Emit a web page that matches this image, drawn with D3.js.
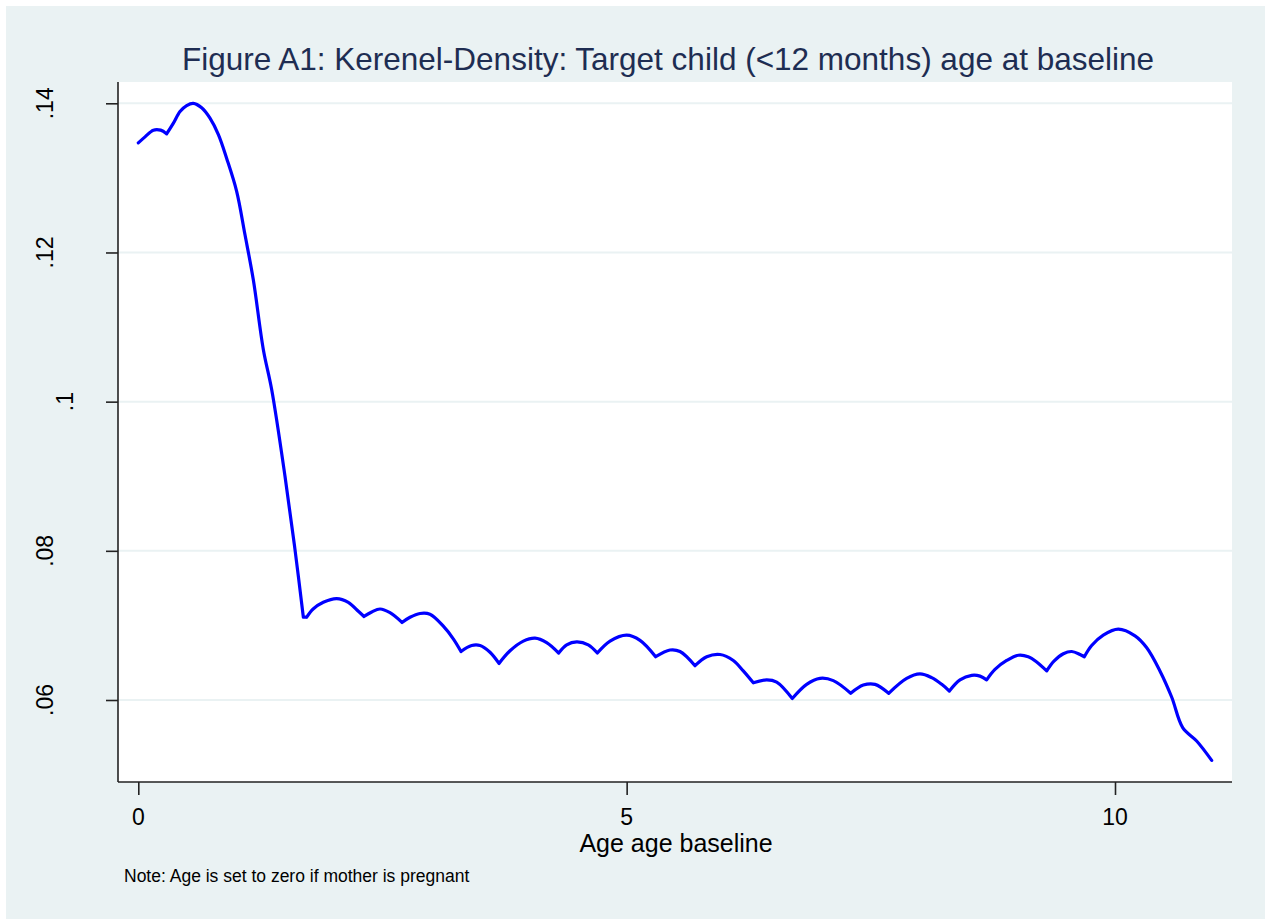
<!DOCTYPE html>
<html lang="en">

<head>
    <script src='https://d3js.org/d3.v7.min.js'></script>
    <style>
        body { margin: 0; background: #fff; }
        text { font-family: "Liberation Sans", Arial, sans-serif; }
    </style>
</head>

<body>

    <script>
        // kernel density of child age
        const ages = [0.000, 0.069, 0.154, 0.229, 0.290, 0.358, 0.427, 0.495, 0.563, 0.649,
            0.734, 0.820, 0.905, 1.007, 1.092, 1.178, 1.280, 1.366, 1.502, 1.604,
            1.690, 1.724, 1.790, 1.894, 2.031, 2.150, 2.253, 2.311, 2.390, 2.475,
            2.577, 2.700, 2.782, 2.884, 2.986, 3.123, 3.225, 3.304, 3.413, 3.499,
            3.601, 3.693, 3.806, 3.942, 4.062, 4.181, 4.304, 4.386, 4.489, 4.607,
            4.700, 4.830, 5.000, 5.137, 5.297, 5.444, 5.546, 5.700, 5.820, 5.956,
            6.092, 6.194, 6.297, 6.434, 6.536, 6.696, 6.843, 6.980, 7.116, 7.294,
            7.423, 7.543, 7.683, 7.867, 8.003, 8.123, 8.226, 8.304, 8.413, 8.533,
            8.618, 8.686, 8.771, 8.891, 9.010, 9.112, 9.198, 9.301, 9.375, 9.471,
            9.557, 9.642, 9.686, 9.761, 9.880, 10.034, 10.205, 10.325, 10.460, 10.580,
            10.693, 10.836, 10.990];

        const density = [0.1347, 0.1355, 0.1364, 0.1364, 0.1359, 0.1373, 0.1389, 0.1397, 0.1400, 0.1394,
            0.1380, 0.1358, 0.1326, 0.1282, 0.1224, 0.1163, 0.1070, 0.1016, 0.0900, 0.0802,
            0.0711, 0.0711, 0.0722, 0.0731, 0.0736, 0.0731, 0.0719, 0.0712, 0.0718, 0.0722,
            0.0717, 0.0704, 0.0711, 0.0716, 0.0715, 0.0699, 0.0682, 0.0665, 0.0673, 0.0673,
            0.0664, 0.0649, 0.0666, 0.0679, 0.0683, 0.0677, 0.0663, 0.0674, 0.0678, 0.0674,
            0.0663, 0.0679, 0.0687, 0.0680, 0.0658, 0.0667, 0.0665, 0.0646, 0.0658, 0.0661,
            0.0653, 0.0639, 0.0623, 0.0627, 0.0624, 0.0602, 0.0621, 0.0629, 0.0626, 0.0609,
            0.0620, 0.0621, 0.0609, 0.0629, 0.0635, 0.0630, 0.0621, 0.0612, 0.0627, 0.0633,
            0.0632, 0.0627, 0.0641, 0.0653, 0.0660, 0.0658, 0.0651, 0.0639, 0.0652, 0.0662,
            0.0665, 0.0661, 0.0658, 0.0673, 0.0687, 0.0695, 0.0686, 0.0670, 0.0639, 0.0604,
            0.0563, 0.0545, 0.0519];

        const xTicks = [0, 5, 10];
        const xTickLabels = ["0", "5", "10"];
        const yTicks = [0.06, 0.08, 0.10, 0.12, 0.14];
        const yTickLabels = [".06", ".08", ".1", ".12", ".14"];

        const titleText = "Figure A1: Kerenel-Density: Target child (<12 months) age at baseline";
        const xTitle = "Age age baseline";
        const noteText = "Note: Age is set to zero if mother is pregnant";

        const W = 1265, H = 919;
        const plot = { left: 118, right: 1232, top: 82, bottom: 782 };

        const svg = d3.select("body").append("svg")
            .attr("width", W)
            .attr("height", H);

        // graph region
        svg.append("rect")
            .attr("x", 6).attr("y", 6)
            .attr("width", W - 6).attr("height", H - 6)
            .attr("fill", "#eaf2f3");

        // plot region
        svg.append("rect")
            .attr("x", plot.left).attr("y", plot.top)
            .attr("width", plot.right - plot.left)
            .attr("height", plot.bottom - plot.top)
            .attr("fill", "#ffffff");

        const x = d3.scaleLinear().domain([0, 10]).range([138.3, 1115]);
        const y = d3.scaleLinear().domain([0.06, 0.14]).range([700, 103.3]);

        // gridlines
        svg.append("g")
            .selectAll("line")
            .data(yTicks)
            .enter()
            .append("line")
            .attr("x1", plot.left).attr("x2", plot.right)
            .attr("y1", d => y(d)).attr("y2", d => y(d))
            .attr("stroke", "#eaf2f3")
            .attr("stroke-width", 2);

        // y axis
        const yAxis = svg.append("g")
            .attr("transform", "translate(" + plot.left + ",0)")
            .call(d3.axisLeft(y).tickValues(yTicks).tickSize(12).tickFormat(""));
        yAxis.select(".domain").attr("d", "M0," + plot.top + "V" + plot.bottom);
        yAxis.selectAll("line, path").attr("stroke", "#222").attr("stroke-width", 1.6);

        // x axis
        const xAxis = svg.append("g")
            .attr("transform", "translate(0," + plot.bottom + ")")
            .call(d3.axisBottom(x).tickValues(xTicks).tickSize(13).tickFormat(""));
        xAxis.select(".domain").attr("d", "M" + plot.left + ",0H" + plot.right);
        xAxis.selectAll("line, path").attr("stroke", "#222").attr("stroke-width", 1.6);

        // y tick labels, rotated like stata
        svg.append("g")
            .selectAll("text")
            .data(yTicks)
            .enter()
            .append("text")
            .attr("transform", (d, i) => {
                const bx = yTickLabels[i].length < 3 ? 73 : 53;
                return "translate(" + bx + "," + y(d) + ") rotate(-90)";
            })
            .attr("text-anchor", "middle")
            .attr("font-size", 23)
            .attr("fill", "#000")
            .text((d, i) => yTickLabels[i]);

        // x tick labels
        svg.append("g")
            .selectAll("text")
            .data(xTicks)
            .enter()
            .append("text")
            .attr("x", d => x(d))
            .attr("y", 825)
            .attr("text-anchor", "middle")
            .attr("font-size", 23)
            .attr("fill", "#000")
            .text((d, i) => xTickLabels[i]);

        // density line: smooth arcs, sharp at the local minima
        const pts = ages.map((a, i) => [a, density[i]]);
        const breaks = [0];
        for (let i = 1; i < pts.length - 1; i++) {
            const a = density[i - 1], b = density[i], c = density[i + 1];
            if ((b < a && b <= c) || (b <= a && b < c)) breaks.push(i);
        }
        breaks.push(pts.length - 1);

        const line = d3.line()
            .x(d => x(d[0]))
            .y(d => y(d[1]))
            .curve(d3.curveCatmullRom.alpha(0.5));

        let pathD = "";
        for (let k = 0; k < breaks.length - 1; k++) {
            pathD += line(pts.slice(breaks[k], breaks[k + 1] + 1));
        }

        svg.append("path")
            .attr("d", pathD)
            .attr("fill", "none")
            .attr("stroke", "#0000ff")
            .attr("stroke-width", 3.2)
            .attr("stroke-linecap", "round")
            .attr("stroke-linejoin", "round");

        // titles
        svg.append("text")
            .attr("x", 668)
            .attr("y", 70)
            .attr("text-anchor", "middle")
            .attr("font-size", 31.5)
            .attr("fill", "#1e2d52")
            .text(titleText);

        svg.append("text")
            .attr("x", 676)
            .attr("y", 852)
            .attr("text-anchor", "middle")
            .attr("font-size", 25)
            .attr("fill", "#000")
            .text(xTitle);

        svg.append("text")
            .attr("x", 124)
            .attr("y", 882)
            .attr("font-size", 17.5)
            .attr("fill", "#000")
            .text(noteText);

    </script>

</body>

</html>
